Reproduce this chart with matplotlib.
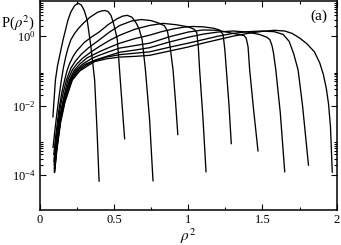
import numpy as np
import matplotlib
matplotlib.use("Agg")
import matplotlib.pyplot as plt
from matplotlib.ticker import FixedLocator, NullFormatter, LogFormatterSciNotation

plt.rcParams['font.family'] = ['Liberation Serif', 'DejaVu Serif']
plt.rcParams['mathtext.fontset'] = 'stix'

# ---- data: x = rho^2, values are log10 P(rho^2) ----
c1_x = [0.089, 0.098, 0.106, 0.12, 0.14, 0.157, 0.175, 0.19, 0.21, 0.235, 0.258, 0.28, 0.30, 0.32, 0.345, 0.37, 0.385, 0.40]
c1_l = [-2.32, -1.75, -1.26, -0.85, -0.45, -0.11, 0.2, 0.46, 0.7, 0.88, 0.95, 0.9, 0.74, 0.46, -0.3, -1.26, -2.6, -4.17]

c2_x = [0.09, 0.10, 0.115, 0.13, 0.146, 0.16, 0.175, 0.19, 0.209, 0.235, 0.26, 0.30, 0.34, 0.39, 0.42, 0.44, 0.46, 0.48, 0.495, 0.51, 0.523, 0.545, 0.572]
c2_l = [-3.2, -2.8, -2.25, -1.75, -1.26, -0.9, -0.6, -0.35, -0.11, 0.08, 0.22, 0.4, 0.55, 0.69, 0.73, 0.74, 0.71, 0.6, 0.4, 0.15, -0.11, -1.4, -2.95]

c3_x = [0.095, 0.11, 0.13, 0.15, 0.168, 0.185, 0.2, 0.225, 0.25, 0.3, 0.35, 0.4, 0.46, 0.52, 0.56, 0.59, 0.62, 0.65, 0.67, 0.69, 0.712, 0.74, 0.763]
c3_l = [-3.4, -2.8, -2.1, -1.6, -1.26, -0.98, -0.8, -0.58, -0.42, -0.18, -0.02, 0.12, 0.33, 0.5, 0.58, 0.6, 0.55, 0.38, 0.2, -0.1, -0.97, -2.4, -4.16]

c4_x = [0.095, 0.115, 0.14, 0.16, 0.18, 0.21, 0.24, 0.28, 0.33, 0.4, 0.47, 0.54, 0.62, 0.685, 0.75, 0.80, 0.84, 0.86, 0.875, 0.898, 0.915, 0.93]
c4_l = [-3.6, -2.8, -2.0, -1.6, -1.26, -0.92, -0.72, -0.52, -0.33, -0.11, 0.12, 0.31, 0.44, 0.48, 0.45, 0.38, 0.3, 0.15, -0.2, -0.97, -1.9, -2.83]

c5_x = [0.097, 0.115, 0.14, 0.165, 0.19, 0.22, 0.25, 0.29, 0.34, 0.4, 0.47, 0.54, 0.64, 0.74, 0.83, 0.92, 1.0, 1.04, 1.058, 1.068, 1.077, 1.1, 1.12]
c5_l = [-3.7, -3.0, -2.2, -1.7, -1.26, -0.97, -0.8, -0.63, -0.47, -0.3, -0.12, 0.03, 0.2, 0.31, 0.37, 0.33, 0.27, 0.2, 0.1, -0.3, -0.97, -2.4, -3.9]

c6_x = [0.098, 0.115, 0.14, 0.17, 0.2, 0.23, 0.27, 0.32, 0.4, 0.47, 0.54, 0.64, 0.74, 0.82, 0.9, 0.97, 1.03, 1.1, 1.17, 1.21, 1.235, 1.247, 1.257, 1.275, 1.29]
c6_l = [-3.8, -3.1, -2.3, -1.7, -1.26, -1.0, -0.8, -0.62, -0.45, -0.32, -0.2, -0.07, 0.03, 0.13, 0.21, 0.26, 0.28, 0.27, 0.23, 0.18, 0.05, -0.4, -0.97, -2.0, -3.09]

c7_x = [0.099, 0.115, 0.14, 0.17, 0.205, 0.24, 0.29, 0.35, 0.4, 0.47, 0.54, 0.64, 0.74, 0.87, 1.0, 1.1, 1.2, 1.28, 1.34, 1.375, 1.39, 1.403, 1.414, 1.44, 1.47]
c7_l = [-3.85, -3.15, -2.35, -1.75, -1.26, -1.0, -0.8, -0.64, -0.55, -0.44, -0.34, -0.27, -0.2, -0.02, 0.12, 0.18, 0.17, 0.1, 0.05, 0.02, -0.05, -0.3, -0.97, -2.1, -3.3]

c8_x = [0.099, 0.115, 0.14, 0.17, 0.21, 0.25, 0.3, 0.37, 0.45, 0.54, 0.64, 0.74, 0.87, 1.0, 1.1, 1.2, 1.3, 1.4, 1.48, 1.53, 1.55, 1.565, 1.575, 1.59, 1.62, 1.65]
c8_l = [-3.9, -3.2, -2.4, -1.8, -1.26, -1.0, -0.82, -0.69, -0.58, -0.46, -0.4, -0.33, -0.17, -0.03, 0.06, 0.12, 0.15, 0.12, 0.05, -0.03, -0.1, -0.28, -0.5, -0.97, -2.2, -3.9]

c9_x = [0.1, 0.115, 0.14, 0.17, 0.215, 0.26, 0.31, 0.37, 0.45, 0.54, 0.64, 0.74, 0.87, 1.0, 1.1, 1.2, 1.3, 1.4, 1.5, 1.58, 1.64, 1.68, 1.71, 1.74, 1.77, 1.81]
c9_l = [-3.9, -3.25, -2.45, -1.85, -1.26, -1.0, -0.84, -0.71, -0.6, -0.53, -0.49, -0.45, -0.32, -0.2, -0.1, 0.0, 0.08, 0.13, 0.15, 0.13, 0.05, -0.15, -0.5, -0.97, -2.0, -3.71]

c10_x = [0.1, 0.115, 0.14, 0.17, 0.22, 0.27, 0.32, 0.37, 0.45, 0.54, 0.64, 0.74, 0.87, 1.0, 1.1, 1.2, 1.3, 1.4, 1.5, 1.58, 1.65, 1.7, 1.75, 1.8, 1.85, 1.886, 1.91, 1.93, 1.945, 1.958, 1.97]
c10_l = [-3.92, -3.3, -2.5, -1.9, -1.26, -1.0, -0.86, -0.73, -0.65, -0.6, -0.58, -0.55, -0.43, -0.31, -0.2, -0.1, 0.0, 0.08, 0.14, 0.17, 0.15, 0.08, -0.05, -0.22, -0.45, -0.77, -1.1, -1.5, -1.95, -2.6, -3.91]

curves = [(c1_x, c1_l), (c2_x, c2_l), (c3_x, c3_l), (c4_x, c4_l), (c5_x, c5_l),
          (c6_x, c6_l), (c7_x, c7_l), (c8_x, c8_l), (c9_x, c9_l), (c10_x, c10_l)]

x_ticks = [0, 0.5, 1, 1.5, 2]
x_minor = [0.25, 0.75, 1.25, 1.75]
y_ticks = [1e-4, 1e-2, 1e0]

fig = plt.figure(figsize=(3.41, 2.45), dpi=100)
ax = fig.add_axes([0.1164, 0.143, 0.871, 0.851])

for cx, cl in curves:
    ax.plot(cx, 10 ** np.array(cl), color='black', lw=0.95)

ax.set_yscale('log')
ax.set_xlim(0, 2)
ax.set_ylim(1e-5, 10)

ax.xaxis.set_major_locator(FixedLocator(x_ticks))
ax.xaxis.set_minor_locator(FixedLocator(x_minor))
ax.set_xticklabels(['0', '0.5', '1', '1.5', '2'])
ax.yaxis.set_major_locator(FixedLocator(y_ticks))
ax.yaxis.set_major_formatter(LogFormatterSciNotation())
ymin = [k * 10.0 ** n for n in (-4, -2, 0) for k in range(2, 10)]
ax.yaxis.set_minor_locator(FixedLocator(ymin))
ax.yaxis.set_minor_formatter(NullFormatter())

ax.tick_params(which='both', direction='in', top=True, right=True, labelsize=9, width=0.8)
ax.tick_params(which='major', length=4.5, pad=3)
ax.tick_params(which='minor', length=2.5)
for s in ax.spines.values():
    s.set_linewidth(1.1)

fig.text(0.003, 0.91, r'P($\rho^2$)', fontsize=10.5, ha='left', va='center')
ax.text(0.97, 0.93, '(a)', transform=ax.transAxes, fontsize=11, ha='right', va='center')
ax.set_xlabel(r'$\rho^2$', fontsize=11, labelpad=0)

fig.savefig('out.png', dpi=100)
